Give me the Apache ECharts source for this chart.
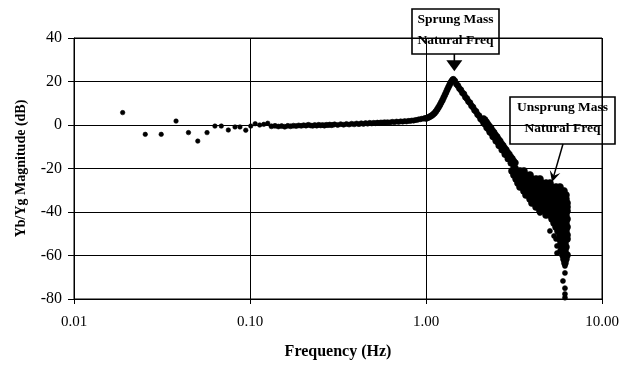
<!DOCTYPE html>
<html><head><meta charset="utf-8">
<script src="https://cdn.jsdelivr.net/npm/echarts@6/dist/echarts.min.js"></script>
<style>html,body{margin:0;padding:0;background:#fff}#c{width:630px;height:365px}</style>
</head><body><div id="c"></div>
<script>
// ---- data: [frequency (Hz), magnitude (dB)] ----
const lowFreqPoints = [[0.0189,5.7],[0.0254,-4.3],[0.0313,-4.3],[0.0380,1.8],[0.0447,-3.5],[0.0505,-7.4],[0.0570,-3.5],[0.0632,-0.5],[0.0687,-0.5],[0.0753,-2.3],[0.0822,-0.9],[0.0877,-0.9],[0.0946,-2.4],[0.1010,-0.5],[0.1070,0.6],[0.1135,0.0],[0.1198,0.3],[0.1261,0.8]];
const flatBand = [[0.1324,-0.6],[0.1387,-0.4],[0.1450,-0.7],[0.1513,-0.5],[0.1576,-0.8],[0.1639,-0.4],[0.1702,-0.6],[0.1765,-0.3],[0.1828,-0.5],[0.1891,-0.2],[0.1954,-0.4],[0.2017,-0.1],[0.2080,-0.3],[0.2143,0.1],[0.2206,-0.2],[0.2269,-0.4],[0.2332,0.0],[0.2395,-0.3],[0.2458,0.1],[0.2521,-0.2],[0.2584,0.0],[0.2647,-0.3],[0.2710,0.1],[0.2773,-0.1],[0.2836,0.2],[0.2899,-0.1],[0.2962,0.1],
[0.3025,0.3],[0.3151,0.0],[0.3277,0.4],[0.3403,0.1],[0.3529,0.5],[0.3655,0.2],[0.3781,0.6],[0.3907,0.3],[0.4033,0.7],[0.4159,0.4],[0.4285,0.8],[0.4411,0.5],[0.4537,0.9],[0.4663,0.6],[0.4789,1.0],[0.4915,0.7],[0.5041,1.0],[0.5167,0.8],[0.5293,1.1],[0.5419,0.9],[0.5545,1.2],[0.5671,1.0],[0.5797,1.3],[0.5923,1.1],
[0.6049,1.3],[0.6238,1.2],[0.6427,1.5],[0.6616,1.3],[0.6805,1.6],[0.6994,1.4],[0.7183,1.7],[0.7372,1.5],[0.7561,1.8],[0.7750,1.6],[0.7939,1.9],[0.8128,1.8],[0.8317,2.1],[0.8506,2.0],[0.8695,2.3],[0.8884,2.3],[0.9073,2.6],[0.9262,2.6],[0.9451,2.9],[0.9640,2.9],[0.9829,3.2]];
const resonance = [[1.00,3.0],[1.02,3.3],[1.04,3.6],[1.06,4.0],[1.08,4.4],[1.10,4.9],[1.12,5.5],[1.14,6.3],[1.16,7.2],[1.18,8.2],[1.20,9.2],[1.22,10.3],[1.24,11.4],[1.26,12.6],[1.28,13.8],[1.30,15.0],[1.32,16.2],[1.34,17.3],[1.36,18.4],[1.38,19.4],[1.40,20.2],[1.42,20.8],[1.43,21.0]];
const rollOff = [[1.459,20.2],[1.488,18.8],[1.518,18.1],[1.548,16.8],[1.579,16.1],[1.610,14.8],[1.643,14.2],[1.675,12.8],[1.709,12.1],[1.743,10.8],[1.778,10.2],[1.814,8.8],[1.850,8.2],[1.887,6.8],[1.925,6.2],[1.963,4.8],[2.002,4.2],[2.042,2.8],[2.083,2.2],[2.125,0.8],[2.167,0.2],[2.211,-1.3],[2.255,-1.8],[2.300,-3.3],[2.346,-3.8],[2.393,-5.4],[2.441,-5.8],[2.490,-7.4],[2.540,-7.8],[2.590,-9.5],[2.642,-9.8],[2.695,-11.5],[2.749,-11.8],[2.804,-13.6],[2.860,-13.8],[2.917,-15.6],[2.976,-15.8],[3.035,-17.6],[3.096,-17.8],[3.158,-19.6],[3.221,-19.8],
[2.125,3.0],[2.167,2.4],[2.211,1.4],[2.255,0.4],[2.300,-0.6],[2.346,-1.4],[2.393,-2.6],[2.441,-3.4],[2.490,-4.6],[2.540,-5.4],[2.590,-6.6],[2.642,-7.4],[2.695,-8.6],[2.749,-9.4],[2.804,-10.6],[2.860,-11.4],[2.917,-12.6],[2.976,-13.4],[3.035,-14.6],[3.096,-15.4],[3.158,-16.6],[3.221,-17.4]];
const unsprungCluster = [
[3.08,-21.1],[3.25,-21.1],[3.42,-21.1],[3.60,-21.1],
[3.16,-23.0],[3.33,-23.0],[3.51,-23.0],[3.70,-23.0],[3.90,-23.0],
[3.25,-24.8],[3.42,-24.8],[3.60,-24.8],[3.80,-24.8],[4.00,-24.8],[4.22,-24.8],[4.44,-24.8],
[3.33,-26.7],[3.51,-26.7],[3.70,-26.7],[3.90,-26.7],[4.11,-26.7],[4.33,-26.7],[4.56,-26.7],[4.81,-26.7],[5.06,-26.7],
[3.42,-28.5],[3.60,-28.5],[3.80,-28.5],[4.00,-28.5],[4.22,-28.5],[4.44,-28.5],[4.68,-28.5],[4.93,-28.5],[5.20,-28.5],[5.48,-28.5],[5.77,-28.5],
[3.60,-30.3],[3.80,-30.3],[4.00,-30.3],[4.22,-30.3],[4.44,-30.3],[4.68,-30.3],[4.93,-30.3],[5.20,-30.3],[5.48,-30.3],[5.77,-30.3],[6.08,-30.3],
[3.70,-32.2],[3.90,-32.2],[4.11,-32.2],[4.33,-32.2],[4.56,-32.2],[4.81,-32.2],[5.06,-32.2],[5.34,-32.2],[5.62,-32.2],[5.92,-32.2],[6.24,-32.2],
[3.90,-34.0],[4.11,-34.0],[4.33,-34.0],[4.56,-34.0],[4.81,-34.0],[5.06,-34.0],[5.34,-34.0],[5.62,-34.0],[5.92,-34.0],[6.24,-34.0],
[4.00,-35.9],[4.22,-35.9],[4.44,-35.9],[4.68,-35.9],[4.93,-35.9],[5.20,-35.9],[5.48,-35.9],[5.77,-35.9],[6.08,-35.9],[6.33,-35.9],
[4.22,-37.7],[4.44,-37.7],[4.68,-37.7],[4.93,-37.7],[5.20,-37.7],[5.48,-37.7],[5.77,-37.7],[6.08,-37.7],[6.33,-37.7],
[4.44,-39.5],[4.68,-39.5],[4.93,-39.5],[5.20,-39.5],[5.48,-39.5],[5.77,-39.5],[6.08,-39.5],[6.33,-39.5],
[4.81,-41.4],[5.06,-41.4],[5.34,-41.4],[5.62,-41.4],[5.92,-41.4],[6.24,-41.4],
[5.20,-43.2],[5.48,-43.2],[5.77,-43.2],[6.08,-43.2],[6.33,-43.2],
[5.34,-45.1],[5.62,-45.1],[5.92,-45.1],[6.24,-45.1],
[5.48,-46.9],[5.77,-46.9],[6.08,-46.9],[6.33,-46.9],
[5.62,-48.7],[5.92,-48.7],[6.24,-48.7],
[5.77,-50.6],[6.08,-50.6],[6.33,-50.6],
[5.77,-52.4],[6.08,-52.4],[6.33,-52.4],
[5.85,-54.3],[6.16,-54.3],
[5.92,-56.1],[6.24,-56.1],
[5.85,-57.9],[6.16,-57.9],
[6.00,-59.8],[6.33,-59.8],
[6.08,-61.6],[6.24,-61.6],
[6.16,-63.4]];
const strayPoints = [[4.44,-40.5],[5.06,-48.7],[5.34,-51.0],[5.48,-52.4],[5.55,-55.6],[5.55,-58.9],[6.16,-64.8],[6.16,-68.0],[6.00,-71.7],[6.16,-75.0],[6.16,-77.7],[6.16,-79.4]];
const annotations = [
  {lines:['Sprung Mass','Natural Freq'], target:[1.43,21.0]},
  {lines:['Unsprung Mass','Natural Freq'], target:[5.2,-26.2]}
];

const serif = '"Liberation Serif","Times New Roman",serif';
const chart = echarts.init(document.getElementById('c'), null, {renderer:'canvas'});
function sc(data, size){
  return {type:'scatter', data:data, symbol:'circle', symbolSize:size, large:false,
    itemStyle:{color:'#000', opacity:1, borderColor:'#000', borderWidth:0.6},
    emphasis:{disabled:true}, silent:true, animation:false};
}
chart.setOption({
  animation:false,
  backgroundColor:'#fff',
  grid:{left:74, right:28, top:38, bottom:66, show:true, borderColor:'#000', borderWidth:1, backgroundColor:'transparent'},
  xAxis:{type:'log', logBase:10, min:0.01, max:10,
    name:'Frequency (Hz)', nameLocation:'middle', nameGap:45,
    nameTextStyle:{fontFamily:serif, fontWeight:'bold', fontSize:16, color:'#000'},
    axisLine:{onZero:false, lineStyle:{color:'#000', width:1}},
    axisTick:{show:true, length:5, lineStyle:{color:'#000'}},
    minorTick:{show:false},
    axisLabel:{formatter:function(v){return Number(v).toFixed(2);}, fontFamily:serif, fontSize:15, color:'#000', margin:16},
    splitLine:{show:true, lineStyle:{color:'#000', width:1}}
  },
  yAxis:{type:'value', min:-80, max:40, interval:20,
    name:'Yb/Yg Magnitude (dB)', nameLocation:'middle', nameGap:46,
    nameTextStyle:{fontFamily:serif, fontWeight:'bold', fontSize:14, color:'#000'},
    axisLine:{show:true, onZero:false, lineStyle:{color:'#000', width:1}},
    axisTick:{show:true, length:6, lineStyle:{color:'#000'}},
    axisLabel:{fontFamily:serif, fontSize:16, color:'#000', margin:12},
    splitLine:{show:true, lineStyle:{color:'#000', width:1}}
  },
  series:[sc(lowFreqPoints,4.5), sc(flatBand,5), sc(resonance,6), sc(rollOff,6), sc(unsprungCluster,7), sc(strayPoints,5)]
});

// annotations (boxes + arrows), arrow tips anchored to data coordinates
const font = 'bold 13.5px ' + serif;
const g = [];
function addBox(x,y,w,h,lines){
  g.push({type:'rect', shape:{x:x,y:y,width:w,height:h}, style:{fill:null, stroke:'#000', lineWidth:1.6}, z:100});
  lines.forEach(function(t,i){
    g.push({type:'text', x:x+w/2, y:y+11+i*21, style:{text:t, font:font, fill:'#000', align:'center', verticalAlign:'middle'}, z:101});
  });
}
// Sprung mass
addBox(412,9,87,45,annotations[0].lines);
const p1 = chart.convertToPixel({gridIndex:0}, annotations[0].target);
const tip1 = [p1[0]+1, p1[1]-8];
g.push({type:'line', shape:{x1:tip1[0], y1:54, x2:tip1[0], y2:tip1[1]-9}, style:{stroke:'#000', lineWidth:1.6}, z:100});
g.push({type:'polygon', shape:{points:[[tip1[0]-8,tip1[1]-11],[tip1[0]+8,tip1[1]-11],[tip1[0],tip1[1]]]}, style:{fill:'#000'}, z:100});
// Unsprung mass
addBox(510,97,105,47,annotations[1].lines);
const p2 = chart.convertToPixel({gridIndex:0}, annotations[1].target);
const tail = [563,144];
const tip2 = [p2[0], p2[1]];
const dx = tip2[0]-tail[0], dy = tip2[1]-tail[1], L = Math.sqrt(dx*dx+dy*dy);
const ux = dx/L, uy = dy/L, px = -uy, py = ux;
const hl = 11, hw = 5.5;
g.push({type:'line', shape:{x1:tail[0], y1:tail[1], x2:tip2[0]-ux*4, y2:tip2[1]-uy*4}, style:{stroke:'#000', lineWidth:1.5}, z:100});
g.push({type:'polygon', shape:{points:[
  [tip2[0],tip2[1]],
  [tip2[0]-ux*hl+px*hw, tip2[1]-uy*hl+py*hw],
  [tip2[0]-ux*hl*0.6, tip2[1]-uy*hl*0.6],
  [tip2[0]-ux*hl-px*hw, tip2[1]-uy*hl-py*hw]
]}, style:{fill:'#000'}, z:100});
chart.setOption({graphic:g});
</script>
</body></html>
